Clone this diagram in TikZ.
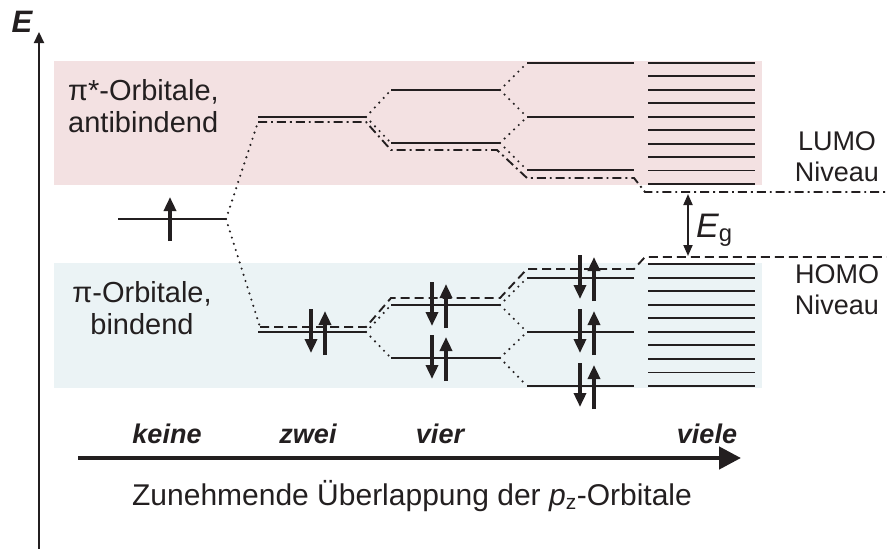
\documentclass[tikz,border=0pt]{standalone}
\usepackage{fontspec}
\setmainfont{Liberation Sans}
\usetikzlibrary{arrows.meta}
\definecolor{ink}{RGB}{35,31,32}
\definecolor{abfill}{RGB}{243,225,226}
\definecolor{bfill}{RGB}{235,243,245}

% one orbital level: name, left x, right x, y
\newcommand\orb[4]{%
  \coordinate (#1l) at (#2,#4);
  \coordinate (#1r) at (#3,#4);
  \draw[level] (#1l) -- (#1r);}
% an electron pair (down + up spin) centred on a level
\newcommand\epair[2]{%
  \draw[spin] (#1-7,#2-23) -- (#1-7,#2+21);
  \draw[spin] (#1+7,#2+23) -- (#1+7,#2-21);}

\begin{document}
\begin{tikzpicture}[x=1pt,y=-1pt,
  level/.style={draw=ink,line width=1.9pt},
  corr/.style={draw=ink,line width=2.4pt,line cap=round,dash pattern=on 0pt off 6.5pt},
  lumo/.style={draw=ink,line width=1.9pt,dash pattern=on 9pt off 4pt on 1.9pt off 4pt},
  homo/.style={draw=ink,line width=1.9pt,dash pattern=on 9pt off 5pt},
  spin/.style={draw=ink,line width=3.4pt,-{Triangle[length=14pt,width=12pt]}},
  lbl/.style={text=ink,font=\fontsize{29}{32}\selectfont,inner sep=0pt},
  side/.style={text=ink,font=\fontsize{27}{31}\selectfont,inner sep=0pt,align=center},
  count/.style={text=ink,font=\fontsize{27}{30}\selectfont\bfseries\itshape,inner sep=0pt},
]
\useasboundingbox (0,0) rectangle (887,549);

% energy bands
\fill[abfill] (54,61) rectangle (762,185);
\fill[bfill] (54,263) rectangle (762,388);

% band labels
\node[lbl,align=left,anchor=west] (abtxt) at (68,106) {π*-Orbitale,\\antibindend};
\node[lbl,align=center] (btxt) at (142,308) {π-Orbitale,\\bindend};

% energy axis
\coordinate (ey0) at (39,549);
\coordinate (ey1) at (39,32);
\draw[ink,line width=2.2pt,-{Triangle[length=11pt,width=10pt]}] (ey0) -- (ey1);
\node[text=ink,font=\fontsize{31}{32}\selectfont\bfseries\itshape,inner sep=0pt] (elbl) at (22,22) {E};

% single p_z orbital
\orb{k}{118}{226}{219}
\draw[spin] (170,241) -- (170,197);

% two orbitals
\orb{zA}{258}{366}{117}
\orb{zB}{258}{366}{332}
% four orbitals
\orb{vAa}{391}{500}{90}
\orb{vAb}{391}{500}{143}
\orb{vBa}{391}{500}{305}
\orb{vBb}{391}{500}{358}
% six orbitals
\orb{sAa}{527}{634}{63}
\orb{sAb}{527}{634}{117}
\orb{sAc}{527}{634}{170}
\orb{sBa}{527}{634}{278}
\orb{sBb}{527}{634}{332}
\orb{sBc}{527}{634}{386}
% many orbitals: bands
\foreach \i in {0,...,9} {
  \orb{nA\i}{648}{755}{63+13.44*\i}
  \orb{nB\i}{648}{755}{264+13.56*\i}
}

% LUMO track (dash-dot)
\coordinate (l0) at (258,122); \coordinate (l1) at (366,122);
\coordinate (l2) at (391,150); \coordinate (l3) at (497,150);
\coordinate (l4) at (527,178); \coordinate (l5) at (634,178);
\coordinate (l6) at (645,192); \coordinate (l7) at (887,192);
\draw[lumo] (l0) -- (l1) -- (l2) -- (l3) -- (l4) -- (l5) -- (l6) -- (l7);
% HOMO track (dashed)
\coordinate (h0) at (260,327); \coordinate (h1) at (366,327);
\coordinate (h2) at (391,298); \coordinate (h3) at (500,298);
\coordinate (h4) at (527,269); \coordinate (h5) at (634,269);
\coordinate (h6) at (645,257); \coordinate (h7) at (887,257);
\draw[homo] (h0) -- (h1) -- (h2) -- (h3) -- (h4) -- (h5) -- (h6) -- (h7);

% correlation lines
\draw[corr] (kr) -- (l0);
\draw[corr] (kr) -- (h0);
\draw[corr] (zAr) -- (vAal);
\draw[corr] (zAr) -- (vAbl);
\draw[corr] (zBr) -- (vBal);
\draw[corr] (zBr) -- (vBbl);
\draw[corr] (vAar) -- (sAal);
\draw[corr] (vAar) -- (sAbl);
\draw[corr] (vAbr) -- (sAbl);
\draw[corr] (vAbr) -- (sAcl);
\draw[corr] (vBar) -- (sBal);
\draw[corr] (vBar) -- (sBbl);
\draw[corr] (vBbr) -- (sBbl);
\draw[corr] (vBbr) -- (sBcl);

% electron pairs
\epair{318}{332}
\epair{439}{305}
\epair{439}{358}
\epair{587}{278}
\epair{587}{332}
\epair{587}{386}

% band gap
\coordinate (gt) at (688,194);
\coordinate (gb) at (688,256);
\draw[ink,line width=1.8pt,{Triangle[length=11pt,width=9pt]}-{Triangle[length=11pt,width=9pt]}] (gt) -- (gb);
\node[text=ink,font=\fontsize{34}{36}\selectfont\itshape,inner sep=0pt,anchor=west] (eg) at (696,230) {E\textsubscript{\upshape g}};

% LUMO / HOMO labels
\node[side] (lumotxt) at (837,157) {LUMO\\Niveau};
\node[side] (homotxt) at (837,290) {HOMO\\Niveau};

% number of overlapping orbitals
\node[count] (c1) at (167,434) {keine};
\node[count] (c2) at (308,434) {zwei};
\node[count] (c3) at (440,434) {vier};
\node[count] (c4) at (707,434) {viele};

% overlap axis
\coordinate (ax0) at (78,458);
\coordinate (ax1) at (741,458);
\draw[ink,line width=4.5pt,-{Triangle[length=22pt,width=22pt]}] (ax0) -- (ax1);
\node[text=ink,font=\fontsize{30}{33}\selectfont,inner sep=0pt] (cap) at (412,496) {Zunehmende Überlappung der {\itshape p}\textsubscript{z}-Orbitale};
\end{tikzpicture}
\end{document}
